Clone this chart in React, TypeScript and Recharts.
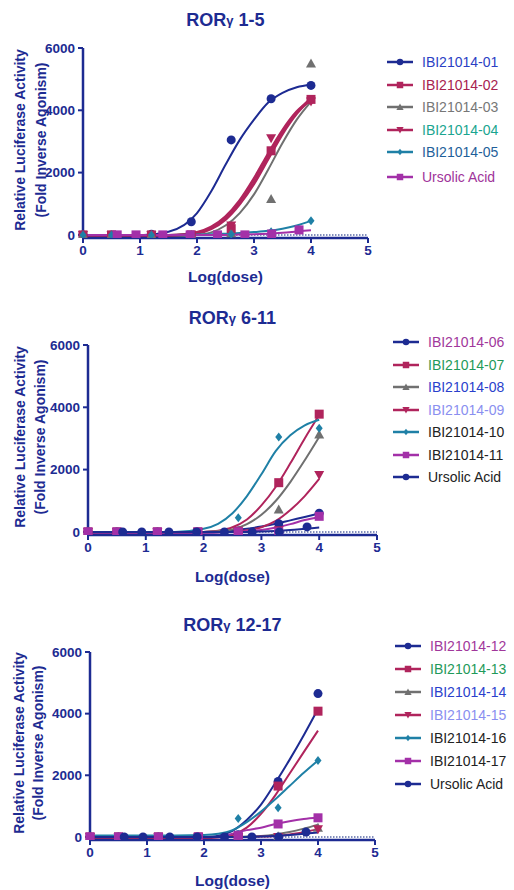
import React from "react";
import { ComposedChart, Line, Scatter, XAxis, YAxis, ReferenceLine } from "recharts";

const NAVY = "#1d2b92";
const CRIMSON = "#b0245c";
const GRAY = "#707070";
const TEAL = "#1f80a6";
const MAGENTA = "#a330a8";

const TICKS_X = [0, 1, 2, 3, 4, 5];
const TICKS_Y = [0, 2000, 4000, 6000];

// log(dose) positions of the measured points and of the fitted curves
const DOSE_X = [0, 0.5, 1.2, 1.9, 2.6, 3.3, 4.0];
const URSOLIC_X = [0.6, 0.93, 1.4, 1.88, 2.36, 2.84, 3.31, 3.79];
const FIT_X = [0, 0.5, 1, 1.5, 2, 2.25, 2.5, 2.75, 3, 3.25, 3.5, 3.75, 4];

// panel 1: RORγ 1-5
const p01 = [0, 0, 20, 420, 3050, 4370, 4800];
const p02 = [0, 0, 0, 0, 200, 2700, 4350];
const p03 = [0, 0, 0, 0, 50, 1150, 5500];
const p04 = [0, 0, 0, 0, 300, 3100, 4280];
const p05 = [0, 0, 0, 0, 20, 100, 450];
const pUrs1 = [0, 0, 0, 0, 0, 0, 30, 160];
const f01 = [-20, -20, -10, 100, 700, 1400, 2250, 3050, 3700, 4250, 4560, 4740, 4830];
const f02 = [-40, -40, -40, -30, 50, 200, 500, 1000, 1650, 2450, 3250, 3900, 4380];
const f03 = [-40, -40, -40, -40, 0, 80, 300, 700, 1300, 2100, 2950, 3700, 4280];
const f04 = [-40, -40, -40, -20, 80, 250, 580, 1100, 1800, 2600, 3350, 3950, 4330];
const f05 = [0, 0, 0, 0, 10, 20, 40, 60, 90, 130, 200, 300, 450];
const fUrs1 = [0, 0, 0, 0, 0, 0, 0, 10, 20, 40, 70, 110, 150];

// panel 2: RORγ 6-11
const p06 = [0, 0, 0, 0, 30, 260, 600];
const p07 = [0, 0, 0, 0, 20, 1580, 3780];
const p08 = [0, 0, 0, 0, 0, 720, 3130];
const p09 = [0, 0, 0, 0, 0, 50, 1830];
const p10 = [0, 0, 0, 0, 450, 3050, 3330];
const p11 = [0, 0, 0, 0, 0, 0, 500];
const pUrs2 = [0, 0, 0, 0, 0, 0, 0, 160];
const f06 = [-20, -20, -20, -10, 0, 20, 50, 100, 170, 260, 370, 480, 590];
const f07 = [-40, -40, -40, -30, 0, 40, 150, 400, 850, 1450, 2200, 3000, 3750];
const f08 = [-20, -20, -20, -20, 0, 20, 80, 250, 550, 1000, 1600, 2300, 3050];
const f09 = [-30, -30, -30, -30, -20, -10, 0, 50, 150, 350, 700, 1150, 1700];
const f10 = [0, 0, 0, 0, 100, 260, 600, 1150, 1850, 2600, 3100, 3420, 3600];
const f11 = [-30, -30, -30, -30, -30, -20, 0, 20, 60, 140, 250, 380, 480];
const fUrs2 = [0, 0, 0, 0, 0, 0, 0, 0, 10, 30, 60, 100, 140];

// panel 3: RORγ 12-17
const p12 = [0, 0, 0, 0, 70, 1800, 4650];
const p13 = [0, 0, 0, 0, 0, 1650, 4080];
const p14 = [0, 0, 0, 0, 0, 20, 300];
const p15 = [0, 0, 0, 0, 0, 0, 250];
const p16 = [0, 0, 0, 0, 600, 950, 2480];
const p17 = [0, 0, 0, 0, 50, 420, 620];
const pUrs3 = [0, 0, 0, 0, 0, 0, 0, 160];
const f12 = [-20, -20, -20, -20, 0, 40, 200, 550, 1050, 1750, 2500, 3300, 4150];
const f13 = [-40, -40, -40, -40, -40, -20, 60, 300, 750, 1350, 2050, 2750, 3450];
const f14 = [0, 0, 0, 0, 0, 0, 0, 10, 30, 80, 160, 270, 400];
const f15 = [0, 0, 0, 0, 0, 0, 0, 0, 10, 30, 80, 150, 260];
const f16 = [50, 50, 50, 50, 60, 100, 220, 480, 820, 1220, 1650, 2080, 2480];
const f17 = [0, 0, 0, 0, 0, 0, 100, 220, 300, 420, 510, 580, 630];
const fUrs3 = [0, 0, 0, 0, 0, 0, 0, 0, 10, 30, 60, 100, 140];

type Kind = "circle" | "square" | "triangle" | "down" | "diamond";

interface Series {
  name: string;
  kind: Kind;
  color: string;
  text: string;
  xs: number[];
  ys: number[];
  fit: number[];
  width?: number;
}

const toPts = (xs: number[], ys: number[]) => xs.map((x, i) => ({ x, y: ys[i] }));

function Marker({ cx, cy, kind, color, k = 1 }: { cx: number; cy: number; kind: Kind; color: string; k?: number }) {
  if (cx == null || cy == null) return null;
  const a = 4.5 * k;
  const t = 5 * k;
  switch (kind) {
    case "circle":
      return <circle cx={cx} cy={cy} r={a} fill={color} />;
    case "square":
      return <rect x={cx - a} y={cy - a} width={2 * a} height={2 * a} fill={color} />;
    case "triangle":
      return <polygon points={`${cx},${cy - t} ${cx - t},${cy + 0.8 * t} ${cx + t},${cy + 0.8 * t}`} fill={color} />;
    case "down":
      return <polygon points={`${cx},${cy + t} ${cx - t},${cy - 0.8 * t} ${cx + t},${cy - 0.8 * t}`} fill={color} />;
    default:
      return <polygon points={`${cx},${cy - a} ${cx + 0.78 * a},${cy} ${cx},${cy + a} ${cx - 0.78 * a},${cy}`} fill={color} />;
  }
}

const panel1: Series[] = [
  { name: "IBI21014-01", kind: "circle", color: NAVY, text: "#2b3fc4", xs: DOSE_X, ys: p01, fit: f01 },
  { name: "IBI21014-02", kind: "square", color: CRIMSON, text: "#a8224f", xs: DOSE_X, ys: p02, fit: f02, width: 3 },
  { name: "IBI21014-03", kind: "triangle", color: GRAY, text: "#777777", xs: DOSE_X, ys: p03, fit: f03 },
  { name: "IBI21014-04", kind: "down", color: CRIMSON, text: "#1aa58f", xs: DOSE_X, ys: p04, fit: f04, width: 3 },
  { name: "IBI21014-05", kind: "diamond", color: TEAL, text: "#1f5f9a", xs: DOSE_X, ys: p05, fit: f05 },
  { name: "Ursolic Acid", kind: "square", color: MAGENTA, text: "#a0339a", xs: URSOLIC_X, ys: pUrs1, fit: fUrs1 },
];

const panel2: Series[] = [
  { name: "IBI21014-06", kind: "circle", color: NAVY, text: "#a1379b", xs: DOSE_X, ys: p06, fit: f06 },
  { name: "IBI21014-07", kind: "square", color: CRIMSON, text: "#1f9a5a", xs: DOSE_X, ys: p07, fit: f07 },
  { name: "IBI21014-08", kind: "triangle", color: GRAY, text: "#2a3fcc", xs: DOSE_X, ys: p08, fit: f08 },
  { name: "IBI21014-09", kind: "down", color: CRIMSON, text: "#8a8ff0", xs: DOSE_X, ys: p09, fit: f09 },
  { name: "IBI21014-10", kind: "diamond", color: TEAL, text: "#222222", xs: DOSE_X, ys: p10, fit: f10 },
  { name: "IBI21014-11", kind: "square", color: MAGENTA, text: "#222222", xs: DOSE_X, ys: p11, fit: f11 },
  { name: "Ursolic Acid", kind: "circle", color: NAVY, text: "#222222", xs: URSOLIC_X, ys: pUrs2, fit: fUrs2 },
];

const panel3: Series[] = [
  { name: "IBI21014-12", kind: "circle", color: NAVY, text: "#a1379b", xs: DOSE_X, ys: p12, fit: f12 },
  { name: "IBI21014-13", kind: "square", color: CRIMSON, text: "#1f9a5a", xs: DOSE_X, ys: p13, fit: f13 },
  { name: "IBI21014-14", kind: "triangle", color: GRAY, text: "#2a3fcc", xs: DOSE_X, ys: p14, fit: f14 },
  { name: "IBI21014-15", kind: "down", color: CRIMSON, text: "#8a8ff0", xs: DOSE_X, ys: p15, fit: f15 },
  { name: "IBI21014-16", kind: "diamond", color: TEAL, text: "#222222", xs: DOSE_X, ys: p16, fit: f16 },
  { name: "IBI21014-17", kind: "square", color: MAGENTA, text: "#222222", xs: DOSE_X, ys: p17, fit: f17 },
  { name: "Ursolic Acid", kind: "circle", color: NAVY, text: "#222222", xs: URSOLIC_X, ys: pUrs3, fit: fUrs3 },
];

interface PanelProps {
  top: number;
  title: string;
  series: Series[];
  plotLeft: number;
  plotRight: number;
  plotTop: number;
  plotBottom: number;
  titleY: number;
  labelX: [number, number];
  xLabelOffset: number;
  legendTop: number;
  legendLeft: number;
  rowH: number;
  gapLast?: number;
}

function Legend({ series, top, left, rowH, gapLast = 0 }: { series: Series[]; top: number; left: number; rowH: number; gapLast?: number }) {
  return (
    <div style={{ position: "absolute", top, left }}>
      {series.map((s, i) => (
        <div
          key={s.name}
          style={{
            display: "flex",
            alignItems: "center",
            height: rowH,
            marginTop: i === series.length - 1 ? gapLast : 0,
          }}
        >
          <svg width={26} height={12} style={{ marginRight: 9 }}>
            <line x1={0} y1={6} x2={26} y2={6} stroke={s.color} strokeWidth={2.5} />
            <Marker cx={13} cy={6} kind={s.kind} color={s.color} k={0.72} />
          </svg>
          <span style={{ color: s.text, fontSize: 14, whiteSpace: "nowrap" }}>{s.name}</span>
        </div>
      ))}
    </div>
  );
}

function Panel(p: PanelProps) {
  const yAxisW = 50;
  const xAxisH = 54;
  const width = 514;
  const height = p.plotBottom + xAxisH;
  const midY = (p.plotTop + p.plotBottom) / 2 - 3;
  return (
    <div style={{ position: "absolute", top: p.top, left: 0, width, height }}>
      <ComposedChart
        width={width}
        height={height}
        margin={{ top: p.plotTop, right: width - p.plotRight, bottom: 0, left: p.plotLeft - yAxisW }}
      >
        <XAxis
          type="number"
          dataKey="x"
          domain={[0, 5]}
          ticks={TICKS_X}
          height={xAxisH}
          axisLine={{ stroke: NAVY, strokeWidth: 2.5 }}
          tickLine={{ stroke: NAVY, strokeWidth: 2 }}
          tickSize={5}
          tickMargin={2}
          tick={{ fill: NAVY, fontSize: 13.5, fontWeight: "bold" }}
          label={{
            value: "Log(dose)",
            position: "insideBottom",
            offset: p.xLabelOffset,
            fill: NAVY,
            fontSize: 15.5,
            fontWeight: "bold",
          }}
        />
        <YAxis
          type="number"
          dataKey="y"
          domain={[-100, 6000]}
          ticks={TICKS_Y}
          width={yAxisW}
          allowDataOverflow
          axisLine={{ stroke: NAVY, strokeWidth: 2.5 }}
          tickLine={{ stroke: NAVY, strokeWidth: 2 }}
          tickSize={5}
          tickMargin={3}
          tick={{ fill: NAVY, fontSize: 13.5, fontWeight: "bold" }}
        />
        <ReferenceLine y={0} stroke="#5a6aa8" strokeWidth={1.5} strokeDasharray="1.5 1.5" />
        {p.series.map((s) => (
          <Line
            key={"f" + s.name}
            data={toPts(FIT_X, s.fit)}
            dataKey="y"
            type="monotone"
            stroke={s.color}
            strokeWidth={s.width ?? 2}
            dot={false}
            activeDot={false}
            isAnimationActive={false}
          />
        ))}
        {p.series.map((s) => (
          <Scatter
            key={"p" + s.name}
            data={toPts(s.xs, s.ys)}
            dataKey="y"
            isAnimationActive={false}
            shape={(props: any) => <Marker cx={props.cx} cy={props.cy} kind={s.kind} color={s.color} />}
          />
        ))}
        <text
          x={(p.plotLeft + p.plotRight) / 2}
          y={p.titleY}
          textAnchor="middle"
          dominantBaseline="central"
          fontWeight="bold"
          fontSize={18}
          fill={NAVY}
        >
          ROR<tspan fontSize={13}>γ</tspan> {p.title}
        </text>
        <text
          transform={`translate(${p.labelX[0]},${midY}) rotate(-90)`}
          textAnchor="middle"
          dominantBaseline="central"
          fontWeight="bold"
          fontSize={14}
          fill={NAVY}
        >
          Relative Luciferase Activity
        </text>
        <text
          transform={`translate(${p.labelX[1]},${midY}) rotate(-90)`}
          textAnchor="middle"
          dominantBaseline="central"
          fontWeight="bold"
          fontSize={14}
          fill={NAVY}
        >
          (Fold Inverse Agonism)
        </text>
      </ComposedChart>
      <Legend series={p.series} top={p.legendTop} left={p.legendLeft} rowH={p.rowH} gapLast={p.gapLast} />
    </div>
  );
}

export default function App() {
  return (
    <div
      style={{
        position: "absolute",
        top: 0,
        left: 0,
        width: 514,
        height: 890,
        background: "#fff",
        fontFamily: "'Liberation Sans', Arial, sans-serif",
        overflow: "hidden",
      }}
    >
      <Panel
        top={0}
        title="1-5"
        series={panel1}
        plotLeft={83}
        plotRight={368}
        plotTop={48}
        plotBottom={238}
        titleY={20}
        labelX={[20, 41]}
        xLabelOffset={10}
        legendTop={51}
        legendLeft={387}
        rowH={22.5}
        gapLast={2.5}
      />
      <Panel
        top={300}
        title="6-11"
        series={panel2}
        plotLeft={88}
        plotRight={377}
        plotTop={45}
        plotBottom={235}
        titleY={18}
        labelX={[20, 40]}
        xLabelOffset={7}
        legendTop={31}
        legendLeft={393}
        rowH={22.5}
      />
      <Panel
        top={610}
        title="12-17"
        series={panel3}
        plotLeft={90}
        plotRight={375}
        plotTop={42}
        plotBottom={230}
        titleY={15}
        labelX={[19, 38]}
        xLabelOffset={8}
        legendTop={24}
        legendLeft={395}
        rowH={23}
      />
    </div>
  );
}
